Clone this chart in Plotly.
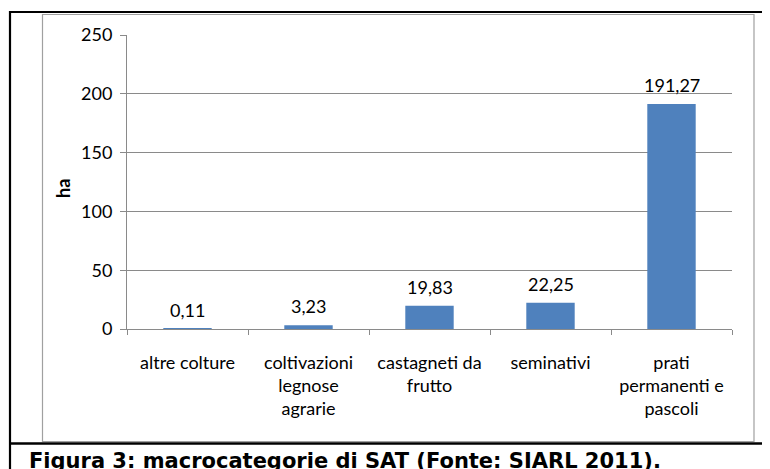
import plotly.graph_objects as go

categories = ["altre colture", "coltivazioni<br>legnose<br>agrarie", "castagneti da<br>frutto",
              "seminativi", "prati<br>permanenti e<br>pascoli"]
values = [0.11, 3.23, 19.83, 22.25, 191.27]
y_ticks = [0, 50, 100, 150, 200, 250]
y_title = "ha"
caption = "Figura 3: macrocategorie di SAT (Fonte: SIARL 2011)."

OFF = 8  # page body margin offset
W, H = 770, 469
SX0, SX1, SYT, SYB = 127, 732, 35, 329
X0, X1, YT, YB = SX0 - OFF, SX1 - OFF, SYT - OFF, SYB - OFF

def px(x):
    return ((x - OFF) - X0) / (X1 - X0)

def py(y):
    return (YB - (y - OFF)) / (YB - YT)

font_main = "Lato, 'Open Sans', sans-serif"
grid = "#8a8a8a"
FS = 18

fig = go.Figure(go.Bar(
    x=categories, y=values,
    marker=dict(color="#4F81BD", line=dict(width=0)),
))

shapes = [
    dict(type="rect", xref="paper", yref="paper", x0=px(42.5), x1=px(754), y0=py(441.5), y1=py(14.5),
         line=dict(color="#a0a0a0", width=1.2), fillcolor="rgba(0,0,0,0)", layer="below"),
    dict(type="line", xref="paper", yref="paper", x0=px(9), x1=px(775), y0=py(12), y1=py(12),
         line=dict(color="#000000", width=2.2)),
    dict(type="line", xref="paper", yref="paper", x0=px(10), x1=px(10), y0=py(11), y1=py(475),
         line=dict(color="#000000", width=2.2)),
    dict(type="line", xref="paper", yref="paper", x0=px(9), x1=px(775), y0=py(443.5), y1=py(443.5),
         line=dict(color="#000000", width=2.6)),
]

annotations = [
    dict(text=f"{v:.2f}".replace(".", ","), x=c, y=v, xref="x", yref="y",
         showarrow=False, yanchor="middle", xanchor="center", yshift=19,
         font=dict(family=font_main, size=FS, color="#000000"))
    for c, v in zip(categories, values)
] + [
    dict(text=f"<b>{y_title}</b>", xref="paper", yref="paper", x=px(63), y=py(189),
         textangle=-90, showarrow=False, font=dict(family=font_main, size=FS, color="#000000"),
         xanchor="center", yanchor="middle"),
    dict(text=f"<b>{caption}</b>", xref="paper", yref="paper", x=px(27), y=py(447),
         showarrow=False, font=dict(family="Verdana, 'DejaVu Sans', sans-serif", size=21, color="#000000"),
         xanchor="left", yanchor="top"),
]

fig.update_layout(
    width=W, height=H,
    margin=dict(l=X0, r=W - X1, t=YT, b=H - YB, pad=0),
    paper_bgcolor="#ffffff", plot_bgcolor="#ffffff",
    separators=",.",
    bargap=0.6,
    showlegend=False,
    shapes=shapes,
    annotations=annotations,
    font=dict(family=font_main, size=FS, color="#000000"),
)

fig.update_xaxes(
    type="category", showline=True, linecolor=grid, linewidth=1,
    ticks="outside", tickson="boundaries", ticklen=5, tickcolor=grid,
    showgrid=False, tickfont=dict(family=font_main, size=FS, color="#000000"),
    ticklabelstandoff=17,
)
fig.update_yaxes(
    range=[0, 250], tickvals=y_ticks, showline=True, linecolor=grid, linewidth=1,
    ticks="outside", ticklen=6, tickcolor=grid,
    showgrid=True, gridcolor=grid, gridwidth=1, zeroline=False,
    tickfont=dict(family=font_main, size=FS, color="#000000"),
    ticklabelstandoff=4,
)

fig.write_html("out.html")
